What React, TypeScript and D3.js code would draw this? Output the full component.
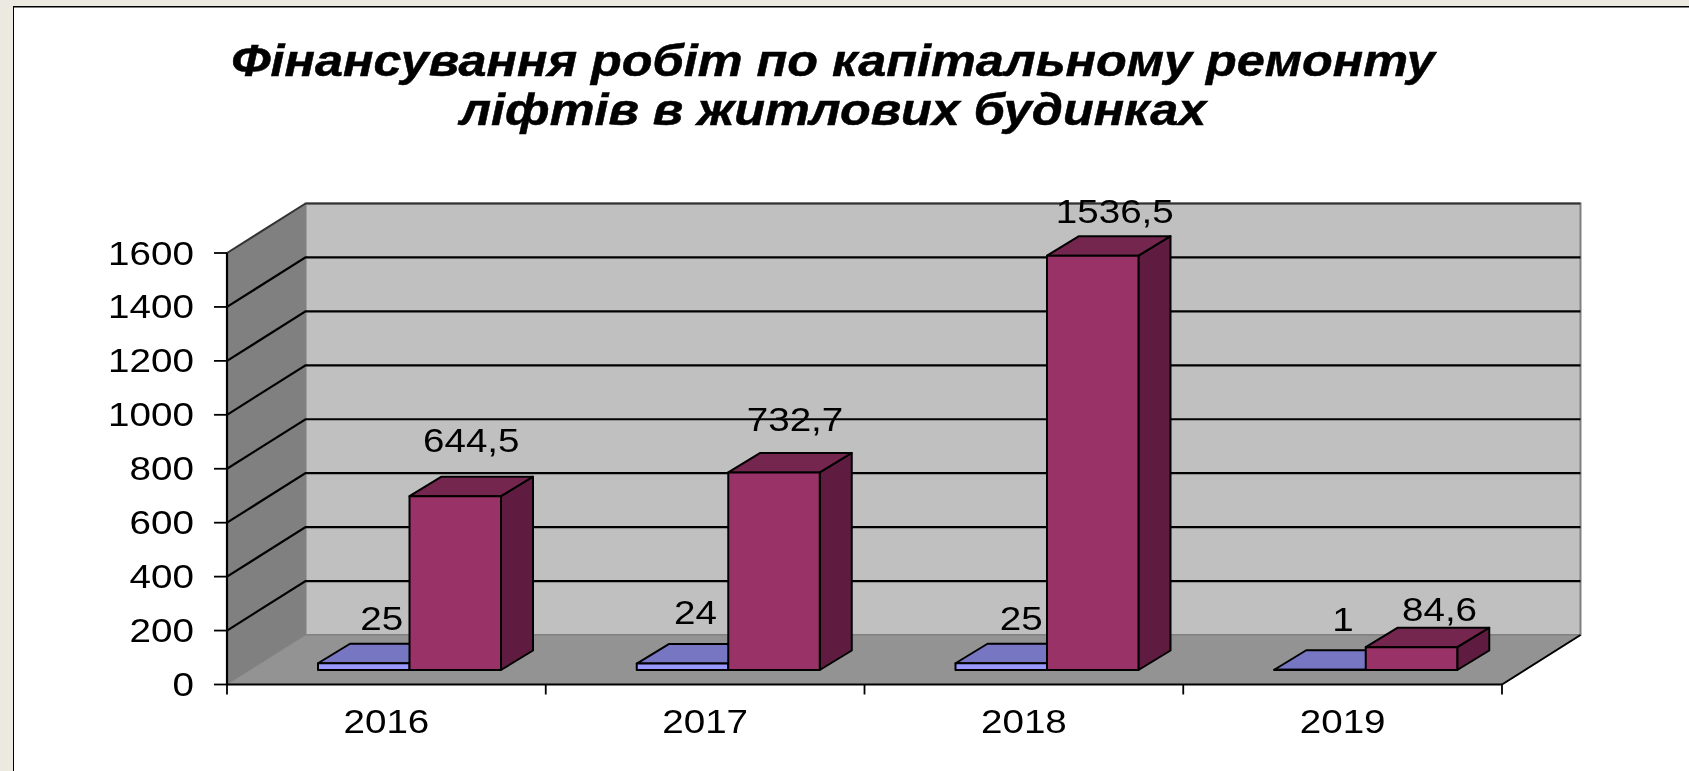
import React from "react";
import * as d3 from "d3";

const categories = ["2016", "2017", "2018", "2019"];
const seriesBlue = [25, 24, 25, 1];
const seriesRed = [644.5, 732.7, 1536.5, 84.6];
const blueLabels = ["25", "24", "25", "1"];
const redLabels = ["644,5", "732,7", "1536,5", "84,6"];
const yTicks = [0, 200, 400, 600, 800, 1000, 1200, 1400, 1600];
const titleLines = ["Фінансування робіт по капітальному ремонту", "ліфтів в житлових будинках"];

const blueLabelShift = [[18, 33], [13, 40], [20, 33], [23, 39]];
const redLabelShift = [[16, 44], [21, 41], [22, 33], [28, 26]];

const W = 1689, H = 771;
const x0 = 227, x1 = 1502, yBase = 684.5, yTop = 253;
const wallDx = 78.5, wallDy = -49.5;
const barDx = 32, barDy = -19.5;
const planeDy = -14.5;
const groupOffset = 91, barW = 91.5;
const SX = 1.17;
const FONT = "'Liberation Sans', Arial, sans-serif";

const xScale = d3.scaleBand<string>().domain(categories).range([x0, x1]).padding(0);
const yScale = d3.scaleLinear().domain([0, 1600]).range([yBase, yTop]);

const pts = (a: number[][]) => a.map((p) => p.join(",")).join(" ");

function Txt({ x, y, size, anchor = "middle", sx = SX, bold = false, children }: any) {
  return (
    <text
      transform={`translate(${x},${y}) scale(${sx},1)`}
      textAnchor={anchor}
      fontFamily={FONT}
      fontSize={size}
      fontWeight={bold ? "bold" : "normal"}
      fontStyle={bold ? "italic" : "normal"}
      fill="#000"
      stroke={bold ? "#000" : "none"}
      strokeWidth={bold ? 0.5 : 0}
    >
      {children}
    </text>
  );
}

function Bar({ x, value, front, top, side }: any) {
  const yb = yScale(0) + planeDy;
  const yt = yScale(value) + planeDy;
  const stroke = { stroke: "#000", strokeWidth: 2, strokeLinejoin: "round" as const };
  return (
    <g>
      <polygon points={pts([[x + barW, yb], [x + barW + barDx, yb + barDy], [x + barW + barDx, yt + barDy], [x + barW, yt]])} fill={side} {...stroke} />
      <polygon points={pts([[x, yt], [x + barDx, yt + barDy], [x + barW + barDx, yt + barDy], [x + barW, yt]])} fill={top} {...stroke} />
      <rect x={x} y={yt} width={barW} height={yb - yt} fill={front} {...stroke} />
    </g>
  );
}

export default function App() {
  const bw = xScale.bandwidth();
  const xBack0 = x0 + wallDx, xBack1 = x1 + wallDx;
  return (
    <svg
      width={W}
      height={H}
      viewBox={`0 0 ${W} ${H}`}
      style={{ position: "absolute", left: 0, top: 0, display: "block" }}
    >
      <defs>
        <filter id="soft" x="0" y="0" width="100%" height="100%">
          <feGaussianBlur stdDeviation="0.65" />
        </filter>
      </defs>
      <rect x={0} y={0} width={W} height={H} fill="#ECEAE0" />
      <g filter="url(#soft)">
        <rect x={13} y={6.5} width={W} height={H} fill="#fff" stroke="#000" strokeWidth={2} />

        {titleLines.map((t, i) => (
          <Txt key={t} x={833} y={75.5 + i * 49.5} size={44} bold sx={1.145}>{t}</Txt>
        ))}

        {/* back wall */}
        <rect x={xBack0} y={yTop + wallDy} width={x1 - x0} height={yBase - yTop} fill="#C0C0C0" stroke="#808080" strokeWidth={2} />
        {/* left wall */}
        <polygon points={pts([[x0, yTop], [xBack0, yTop + wallDy], [xBack0, yBase + wallDy], [x0, yBase]])} fill="#808080" />
        {/* floor */}
        <polygon points={pts([[x0, yBase], [xBack0, yBase + wallDy], [xBack1, yBase + wallDy], [x1, yBase]])} fill="#939393" stroke="#808080" strokeWidth={1} />

        {/* top edges */}
        <line x1={x0} y1={yTop} x2={xBack0} y2={yTop + wallDy} stroke="#333" strokeWidth={2} />
        <line x1={xBack0} y1={yTop + wallDy} x2={xBack1} y2={yTop + wallDy} stroke="#333" strokeWidth={2} />

        {/* gridlines */}
        {yTicks.filter((t) => t > 0 && t < 1600).map((t) => (
          <polyline key={t} points={pts([[x0, yScale(t)], [xBack0, yScale(t) + wallDy], [xBack1, yScale(t) + wallDy]])} fill="none" stroke="#000" strokeWidth={2.2} />
        ))}
        {/* floor edge on right */}
        <line x1={x1} y1={yBase} x2={xBack1} y2={yBase + wallDy} stroke="#000" strokeWidth={2} />

        {/* axes */}
        <line x1={x0} y1={yTop} x2={x0} y2={yBase} stroke="#000" strokeWidth={2.2} />
        <line x1={x0} y1={yBase} x2={x1} y2={yBase} stroke="#000" strokeWidth={2.2} />
        {yTicks.map((t) => (
          <g key={t}>
            <line x1={x0 - 13} y1={yScale(t)} x2={x0} y2={yScale(t)} stroke="#000" strokeWidth={1.8} />
            <Txt x={194} y={yScale(t) + 11.5} size={33} anchor="end">{String(t)}</Txt>
          </g>
        ))}
        {[...categories.map((c) => xScale(c) as number), x1].map((x) => (
          <line key={x} x1={x} y1={yBase} x2={x} y2={yBase + 10} stroke="#000" strokeWidth={1.8} />
        ))}
        {categories.map((c) => (
          <Txt key={c} x={(xScale(c) as number) + bw / 2} y={733} size={33}>{c}</Txt>
        ))}

        {/* value labels, then bars */}
        {categories.map((c, i) => {
          const bx = (xScale(c) as number) + groupOffset;
          return (
            <g key={c}>
              <Txt x={bx + barW / 2 + blueLabelShift[i][0]} y={yScale(seriesBlue[i]) + planeDy - blueLabelShift[i][1]} size={33}>{blueLabels[i]}</Txt>
              <Txt x={bx + barW * 1.5 + redLabelShift[i][0]} y={yScale(seriesRed[i]) + planeDy - redLabelShift[i][1]} size={33}>{redLabels[i]}</Txt>
              <Bar x={bx} value={seriesBlue[i]} front="#9999FF" top="#7676C2" side="#5C5CA0" />
              <Bar x={bx + barW} value={seriesRed[i]} front="#993366" top="#75274F" side="#5F1F40" />
            </g>
          );
        })}
      </g>
    </svg>
  );
}
